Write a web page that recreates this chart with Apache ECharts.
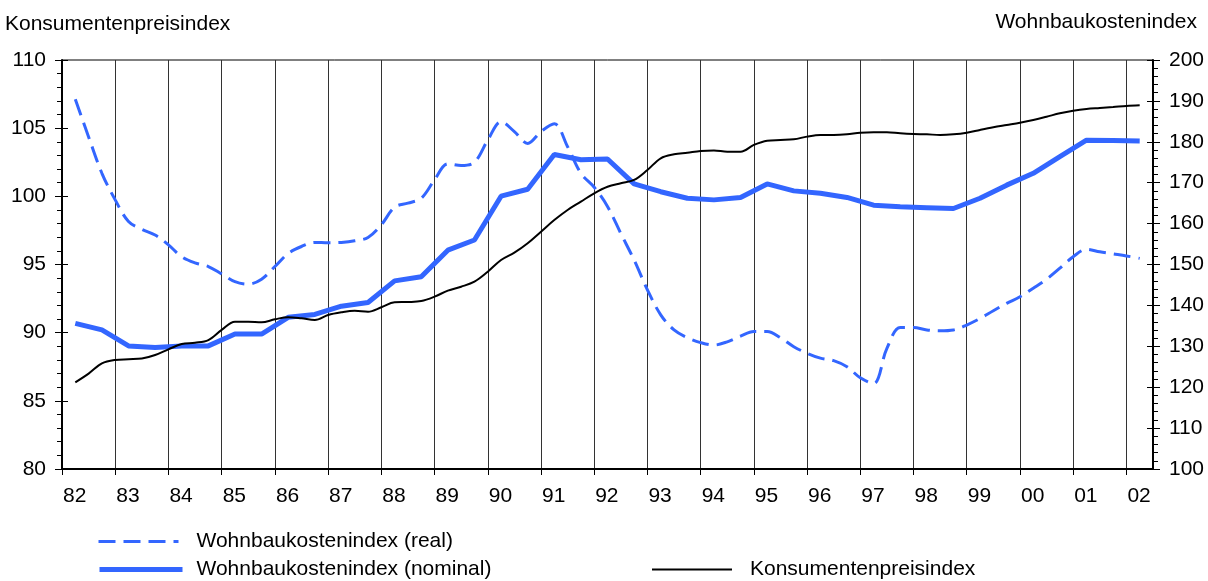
<!DOCTYPE html>
<html>
<head>
<meta charset="utf-8">
<script src="https://cdn.jsdelivr.net/npm/echarts@6/dist/echarts.min.js"></script>
<style>
html,body{margin:0;padding:0;background:#fff;}
#chart{width:1208px;height:581px;}
</style>
</head>
<body>
<div id="chart"></div>
<script>
// Time positions (year fractions) of the data points
const quarterTimes = [
  1982.25,1982.5,1982.75,1983,1983.25,1983.5,1983.75,1984,1984.25,1984.5,1984.75,1985,
  1985.25,1985.5,1985.75,1986,1986.25,1986.5,1986.75,1987,1987.25,1987.5,1987.75,1988,
  1988.25,1988.5,1988.75,1989,1989.25,1989.5,1989.75,1990,1990.25,1990.5,1990.75,1991,
  1991.25,1991.5,1991.75,1992,1992.25,1992.5,1992.75,1993,1993.25,1993.5,1993.75,1994,
  1994.25,1994.5,1994.75,1995,1995.25,1995.5,1995.75,1996,1996.25,1996.5,1996.75,1997,
  1997.25,1997.5,1997.75,1998,1998.25,1998.5,1998.75,1999,1999.25,1999.5,1999.75,2000,
  2000.25,2000.5,2000.75,2001,2001.25,2001.5,2001.75,2002,2002.25
];
const halfYearTimes = [
  1982.25,1982.75,1983.25,1983.75,1984.25,1984.75,1985.25,1985.75,1986.25,1986.75,
  1987.25,1987.75,1988.25,1988.75,1989.25,1989.75,1990.25,1990.75,1991.25,1991.75,
  1992.25,1992.75,1993.25,1993.75,1994.25,1994.75,1995.25,1995.75,1996.25,1996.75,
  1997.25,1997.75,1998.25,1998.75,1999.25,1999.75,2000.25,2000.75,2001.25,2001.75,
  2002.25
];

// Konsumentenpreisindex (left axis), quarterly
const kpi = [
  86.36,87.0,87.75,88.0,88.05,88.1,88.36,88.78,89.17,89.26,89.46,90.2,
  90.8,90.8,90.76,90.98,91.13,91.05,90.93,91.3,91.5,91.61,91.54,91.86,
  92.23,92.25,92.32,92.64,93.08,93.37,93.74,94.47,95.33,95.87,96.56,97.41,
  98.26,99.0,99.61,100.22,100.7,100.96,101.2,101.93,102.79,103.08,103.2,103.33,
  103.37,103.27,103.27,103.77,104.08,104.13,104.18,104.38,104.5,104.5,104.55,104.67,
  104.7,104.7,104.62,104.57,104.55,104.5,104.55,104.67,104.87,105.06,105.23,105.4,
  105.6,105.84,106.09,106.28,106.41,106.48,106.55,106.63,106.68
];

// Wohnbaukostenindex (real), right axis, quarterly
const realIdx = [
  190.4,181.2,172.3,165.8,160.5,158.6,157.2,154.8,151.9,150.4,149.5,147.7,
  145.8,145.2,146.4,149.5,152.7,154.4,155.4,155.3,155.4,155.8,156.6,159.7,
  164.0,165.0,166.2,170.7,174.6,174.2,175.0,180.4,184.9,182.5,179.6,182.5,
  184.4,178.8,172.3,168.9,164.2,157.6,151.1,143.8,137.7,134.0,132.1,130.9,
  130.3,131.1,132.5,133.6,133.6,132.1,129.9,128.3,127.1,126.5,125.0,122.3,
  120.9,129.5,134.6,134.6,134.0,133.8,134.0,135.2,136.8,138.7,140.5,142.1,
  144.2,146.4,149.1,151.9,153.7,153.1,152.6,152.1,151.5
];

// Wohnbaukostenindex (nominal), right axis, half-yearly
const nominalIdx = [
  135.6,134.0,130.1,129.7,130.1,130.1,133.0,133.0,137.1,137.8,
  139.8,140.7,146.0,147.0,153.5,156.0,166.7,168.4,176.9,175.6,
  175.8,169.7,167.8,166.2,165.8,166.4,169.7,168.0,167.4,166.4,
  164.5,164.1,163.9,163.7,166.2,169.4,172.3,176.4,180.4,180.3,
  180.2
];

const names = ['Wohnbaukostenindex (real)', 'Wohnbaukostenindex (nominal)', 'Konsumentenpreisindex'];
const leftTitle = 'Konsumentenpreisindex';
const rightTitle = 'Wohnbaukostenindex';

const FONT = '"Liberation Sans", Arial, Helvetica, sans-serif';
const FS = 21;
const BLUE = '#3366ff';

const zip = (xs, ys) => xs.map((x, i) => [x, ys[i]]);

const chart = echarts.init(document.getElementById('chart'), null, {renderer: 'canvas'});

const baseY = {
  type: 'value',
  splitLine: {show: false},
  axisLine: {show: true, lineStyle: {color: '#000', width: 2}},
  axisTick: {show: true, inside: false, length: 7, lineStyle: {color: '#000', width: 1}},
  minorTick: {show: true, splitNumber: 5, length: 5, lineStyle: {color: '#000', width: 1}},
  axisLabel: {color: '#000', fontSize: FS, fontFamily: FONT, margin: 16}
};

const legendText = pad => ({fontSize: FS, color: '#000', fontFamily: FONT, padding: [0, 0, 0, pad]});

const option = {
  backgroundColor: '#fff',
  animation: false,
  textStyle: {fontFamily: FONT},
  title: [
    {text: leftTitle, left: 0, top: 9, textStyle: {fontSize: FS, fontWeight: 'normal', color: '#000', fontFamily: FONT}},
    {text: rightTitle, right: 6, top: 7, textStyle: {fontSize: FS, fontWeight: 'normal', color: '#000', fontFamily: FONT}}
  ],
  grid: {left: 62, right: 55, top: 60, bottom: 112, show: true, borderColor: '#000', borderWidth: 1, backgroundColor: 'transparent'},
  legend: [
    {
      data: [names[0]], left: 97, top: 531, padding: 0, itemWidth: 80, itemHeight: 14, itemGap: 0,
      textStyle: legendText(13),
      itemStyle: {opacity: 0},
      lineStyle: {width: 3, type: [17, 8]}
    },
    {
      data: [names[1]], left: 97, top: 559, padding: 0, itemWidth: 83, itemHeight: 14, itemGap: 0,
      textStyle: legendText(9),
      itemStyle: {opacity: 0},
      lineStyle: {width: 5}
    },
    {
      data: [names[2]], left: 651, top: 559, padding: 0, itemWidth: 80, itemHeight: 14, itemGap: 0,
      textStyle: legendText(13),
      itemStyle: {opacity: 0},
      lineStyle: {width: 2}
    }
  ],
  xAxis: {
    type: 'value', min: 1982, max: 2002.5, interval: 1,
    axisLine: {show: true, lineStyle: {color: '#000', width: 2}},
    axisTick: {show: true, length: 6, lineStyle: {color: '#000', width: 1}},
    splitLine: {show: true, lineStyle: {color: '#333', width: 1}},
    axisLabel: {
      color: '#000', fontSize: FS, fontFamily: FONT, margin: 17, align: 'left', padding: [0, 0, 0, 1],
      showMaxLabel: false,
      formatter: v => Number.isInteger(v) ? String(v % 100).padStart(2, '0') : ''
    }
  },
  yAxis: [
    Object.assign({}, baseY, {position: 'left', min: 80, max: 110, interval: 5}),
    Object.assign({}, baseY, {position: 'right', min: 100, max: 200, interval: 10}),
    {type: 'value', position: 'left', min: 80, max: 110, interval: 5, axisLine: {show: false}, splitLine: {show: false},
     axisLabel: {show: false}, axisTick: {show: true, inside: true, length: 6, lineStyle: {color: '#000', width: 1}}},
    {type: 'value', position: 'right', min: 100, max: 200, interval: 10, axisLine: {show: false}, splitLine: {show: false},
     axisLabel: {show: false}, axisTick: {show: true, inside: true, length: 6, lineStyle: {color: '#000', width: 1}}}
  ],
  series: [
    {
      name: names[0], type: 'line', yAxisIndex: 1, data: zip(quarterTimes, realIdx),
      showSymbol: false, symbol: 'none', smooth: 0.35, z: 2, color: BLUE,
      lineStyle: {color: BLUE, width: 3, type: [17, 8]}
    },
    {
      name: names[1], type: 'line', yAxisIndex: 1, data: zip(halfYearTimes, nominalIdx),
      showSymbol: false, symbol: 'none', smooth: false, z: 3, color: BLUE,
      lineStyle: {color: BLUE, width: 5}
    },
    {
      name: names[2], type: 'line', yAxisIndex: 0, data: zip(quarterTimes, kpi),
      showSymbol: false, symbol: 'none', smooth: 0.35, z: 4, color: '#000',
      lineStyle: {color: '#000', width: 2}
    }
  ]
};
chart.setOption(option);
</script>
</body>
</html>
